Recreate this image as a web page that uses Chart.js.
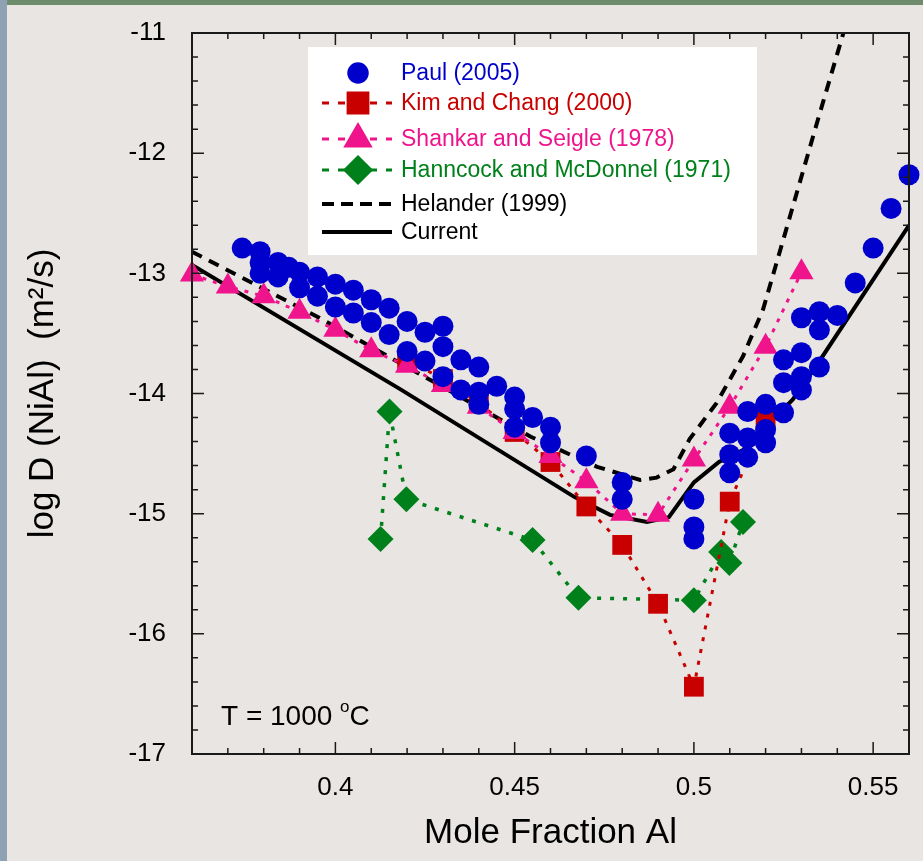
<!DOCTYPE html>
<html>
<head>
<meta charset="utf-8">
<script src="https://cdn.jsdelivr.net/npm/chart.js@4.4.1/dist/chart.umd.min.js"></script>
<style>
  html, body { margin: 0; padding: 0; background: #E8E5E2; }
  #wrap { width: 923px; height: 861px; }
</style>
</head>
<body>
<div id="wrap"><canvas id="chart" width="923" height="861"></canvas></div>
<script>
// Paul (2005) - scattered measurements
const paulX = [0.374, 0.379, 0.379, 0.379, 0.384, 0.384, 0.387, 0.390, 0.390, 0.395, 0.395,
  0.400, 0.400, 0.405, 0.405, 0.410, 0.410, 0.415, 0.415, 0.420, 0.420, 0.425, 0.425,
  0.430, 0.430, 0.430, 0.435, 0.435, 0.440, 0.440, 0.440, 0.445, 0.450, 0.450, 0.450,
  0.455, 0.460, 0.460, 0.470, 0.480, 0.480, 0.500, 0.500, 0.500,
  0.510, 0.510, 0.510, 0.515, 0.515, 0.515, 0.520, 0.520, 0.520,
  0.525, 0.525, 0.525, 0.530, 0.530, 0.530, 0.530, 0.535, 0.535, 0.535,
  0.540, 0.545, 0.550, 0.555, 0.560];
const paulY = [-12.79, -12.82, -12.91, -13.00, -12.91, -13.03, -12.95, -12.99, -13.12, -13.03, -13.19,
  -13.09, -13.28, -13.14, -13.33, -13.22, -13.41, -13.29, -13.51, -13.40, -13.65, -13.49, -13.73,
  -13.44, -13.61, -13.86, -13.72, -13.97, -13.78, -13.99, -14.09, -13.94, -14.03, -14.13, -14.28,
  -14.20, -14.28, -14.41, -14.52, -14.74, -14.88, -14.88, -15.11, -15.21,
  -14.33, -14.51, -14.66, -14.15, -14.37, -14.53, -14.09, -14.30, -14.41,
  -13.72, -13.91, -14.16, -13.66, -13.86, -13.97, -13.37, -13.32, -13.47, -13.78,
  -13.35, -13.08, -12.79, -12.46, -12.18];

// Kim and Chang (2000)
const kimX = [0.42, 0.43, 0.44, 0.45, 0.46, 0.47, 0.48, 0.49, 0.50, 0.51, 0.52];
const kimY = [-13.72, -13.88, -14.08, -14.32, -14.57, -14.94, -15.26, -15.75, -16.44, -14.90, -14.22];

// Shankar and Seigle (1978)
const shankarX = [0.36, 0.37, 0.38, 0.39, 0.40, 0.41, 0.42, 0.43, 0.44, 0.45, 0.46, 0.47, 0.48, 0.49, 0.50, 0.51, 0.52, 0.53];
const shankarY = [-13.01, -13.11, -13.19, -13.32, -13.47, -13.64, -13.77, -13.93, -14.11, -14.32, -14.52, -14.73, -15.00, -15.01, -14.55, -14.11, -13.61, -12.99];

// Hanncock and McDonnel (1971)
const hannX = [0.4126, 0.4151, 0.4198, 0.455, 0.4678, 0.500, 0.5076, 0.5099, 0.5137];
const hannY = [-15.21, -14.15, -14.88, -15.22, -15.70, -15.72, -15.32, -15.41, -15.07];

// Helander (1999) - dashed curve
const helX = [0.36, 0.3955, 0.435, 0.4545, 0.473, 0.485, 0.4896, 0.4943, 0.4988, 0.5063, 0.5137, 0.5193, 0.5257, 0.5348, 0.5417];
const helY = [-12.82, -13.37, -14.03, -14.36, -14.61, -14.72, -14.70, -14.63, -14.38, -14.08, -13.69, -13.30, -12.64, -11.70, -11.00];

// Current - solid curve
const curX = [0.36, 0.4184, 0.4666, 0.4766, 0.4869, 0.493, 0.500, 0.507, 0.5137, 0.5276, 0.5359, 0.56];
const curY = [-12.93, -13.97, -14.86, -15.01, -15.07, -15.03, -14.74, -14.57, -14.47, -14.05, -13.69, -12.60];

// axis ticks
const xTicks = [0.4, 0.45, 0.5, 0.55];
const xTickLabels = ['0.4', '0.45', '0.5', '0.55'];
const yTicks = [-17, -16, -15, -14, -13, -12, -11];
const yTickLabels = ['-17', '-16', '-15', '-14', '-13', '-12', '-11'];

const FONT = "'Liberation Sans', Arial, Helvetica, sans-serif";
const BLUE = '#0000CC', RED = '#C80000', PINK = '#F0148C', GREEN = '#00801A';

const pts = (xs, ys) => xs.map((x, i) => ({ x, y: ys[i] }));

// Legend entries, drawn by hand inside a white box
const legendItems = [
  { text: 'Paul (2005)', color: BLUE, marker: 'circle', r: 10, line: null },
  { text: 'Kim and Chang (2000)', color: RED, marker: 'rect', r: 14, line: [7, 9] },
  { text: 'Shankar and Seigle (1978)', color: PINK, marker: 'triangle', r: 14, line: [7, 9] },
  { text: 'Hanncock and McDonnel (1971)', color: GREEN, marker: 'rectRot', r: 13, line: [7, 9] },
  { text: 'Helander (1999)', color: '#000', marker: null, line: [12, 7] },
  { text: 'Current', color: '#000', marker: null, line: [] }
];
const legendRows = [73, 103, 139, 170, 204, 232];

const decor = {
  id: 'decor',
  beforeDraw(chart) {
    const { ctx, width, height } = chart;
    ctx.save();
    ctx.fillStyle = '#E8E5E2';
    ctx.fillRect(0, 0, width, height);
    ctx.fillStyle = '#6E8B6B';
    ctx.fillRect(0, 0, width, 5);
    ctx.fillStyle = '#8FA2B3';
    ctx.fillRect(0, 0, 7, height);
    ctx.restore();
  },
  afterDatasetsDraw(chart) {
    const { ctx, chartArea: a, scales } = chart;
    const xs = scales.x, ys = scales.y;
    ctx.save();

    // frame + inward ticks
    ctx.strokeStyle = '#1a1a1a';
    ctx.lineWidth = 2;
    ctx.strokeRect(a.left, a.top, a.right - a.left, a.bottom - a.top);
    ctx.lineWidth = 1.5;
    ctx.beginPath();
    for (let k = 37; k <= 55; k++) {
      const v = k / 100;
      const px = xs.getPixelForValue(v);
      const len = (k % 5 === 0) ? 12 : 6;
      ctx.moveTo(px, a.bottom); ctx.lineTo(px, a.bottom - len);
      ctx.moveTo(px, a.top); ctx.lineTo(px, a.top + len);
    }
    for (let k = -84; k <= -56; k++) {
      const v = k / 5;
      const py = ys.getPixelForValue(v);
      const len = (k % 5 === 0) ? 12 : 6;
      ctx.moveTo(a.left, py); ctx.lineTo(a.left + len, py);
      ctx.moveTo(a.right, py); ctx.lineTo(a.right - len, py);
    }
    ctx.stroke();

    // legend box
    ctx.fillStyle = '#FFFFFF';
    ctx.fillRect(308, 47, 449, 208);
    legendItems.forEach((it, i) => {
      const y = legendRows[i];
      if (it.line) {
        ctx.beginPath();
        ctx.setLineDash(it.line);
        ctx.strokeStyle = it.color;
        ctx.lineWidth = it.marker ? 3 : 4;
        ctx.moveTo(322, y); ctx.lineTo(392, y);
        ctx.stroke();
        ctx.setLineDash([]);
      }
      if (it.marker) {
        ctx.fillStyle = it.color;
        ctx.strokeStyle = it.color;
        Chart.helpers.drawPoint(ctx, { pointStyle: it.marker, radius: it.r, rotation: 0, borderWidth: 1 }, 358, y);
      }
      ctx.fillStyle = it.color;
      ctx.font = '23px ' + FONT;
      ctx.textAlign = 'left';
      ctx.textBaseline = 'middle';
      ctx.fillText(it.text, 401, y + 1);
    });

    // temperature note
    ctx.fillStyle = '#000';
    ctx.textBaseline = 'alphabetic';
    ctx.font = '28px ' + FONT;
    ctx.fillText('T = 1000 ', 221, 725);
    let tx = 221 + ctx.measureText('T = 1000 ').width;
    ctx.font = '17px ' + FONT;
    ctx.fillText('o', tx, 712);
    tx += ctx.measureText('o').width;
    ctx.font = '28px ' + FONT;
    ctx.fillText('C', tx, 725);

    // axis titles
    ctx.font = '35px ' + FONT;
    ctx.textAlign = 'center';
    ctx.fillText('Mole Fraction Al', (a.left + a.right) / 2, 843);
    ctx.translate(53, (a.top + a.bottom) / 2);
    ctx.rotate(-Math.PI / 2);
    ctx.font = '35px ' + FONT;
    ctx.fillText('log D (NiAl)  (m\u00B2/s)', 0, 0);
    ctx.restore();
  }
};

new Chart(document.getElementById('chart'), {
  type: 'scatter',
  data: {
    datasets: [
      { label: 'Paul (2005)', data: pts(paulX, paulY), order: 0, clip: false,
        pointStyle: 'circle', pointRadius: 10.5, backgroundColor: BLUE, borderColor: BLUE, pointBorderWidth: 0 },
      { label: 'Shankar and Seigle (1978)', data: pts(shankarX, shankarY), order: 1, clip: false,
        showLine: true, borderColor: PINK, backgroundColor: PINK, borderWidth: 3, borderDash: [4, 7],
        pointStyle: 'triangle', pointRadius: 14, pointBorderWidth: 0 },
      { label: 'Kim and Chang (2000)', data: pts(kimX, kimY), order: 2, clip: false,
        showLine: true, borderColor: RED, backgroundColor: RED, borderWidth: 3, borderDash: [4, 8],
        pointStyle: 'rect', pointRadius: 14, pointBorderWidth: 0 },
      { label: 'Hanncock and McDonnel (1971)', data: pts(hannX, hannY), order: 3, clip: false,
        showLine: true, borderColor: GREEN, backgroundColor: GREEN, borderWidth: 3.5, borderDash: [4, 9],
        pointStyle: 'rectRot', pointRadius: 13, pointBorderWidth: 0 },
      { label: 'Helander (1999)', data: pts(helX, helY), order: 4,
        showLine: true, borderColor: '#000', borderWidth: 4, borderDash: [11, 8], pointRadius: 0 },
      { label: 'Current', data: pts(curX, curY), order: 5,
        showLine: true, borderColor: '#000', borderWidth: 4, pointRadius: 0 }
    ]
  },
  options: {
    responsive: false,
    animation: false,
    events: [],
    layout: { padding: { top: 33, right: 10, left: 0, bottom: 0 } },
    plugins: { legend: { display: false }, tooltip: { enabled: false } },
    scales: {
      x: {
        type: 'linear', min: 0.36, max: 0.56,
        grid: { display: true, drawOnChartArea: false, drawTicks: true, tickLength: 18, tickColor: 'rgba(0,0,0,0)' },
        border: { display: false },
        afterBuildTicks: s => { s.ticks = xTicks.map(v => ({ value: v })); },
        afterFit: s => { s.height = 107; },
        ticks: { autoSkip: false, maxRotation: 0, padding: 0, color: '#000',
          font: { family: FONT, size: 26 }, callback: (v, i) => xTickLabels[i] }
      },
      y: {
        type: 'linear', min: -17, max: -11,
        grid: { display: true, drawOnChartArea: false, drawTicks: true, tickLength: 26, tickColor: 'rgba(0,0,0,0)' },
        border: { display: false },
        afterBuildTicks: s => { s.ticks = yTicks.map(v => ({ value: v })); },
        afterFit: s => { s.width = 192; },
        ticks: { autoSkip: false, padding: 0, color: '#000',
          font: { family: FONT, size: 26 }, callback: (v, i) => yTickLabels[i] }
      }
    }
  },
  plugins: [decor]
});
</script>
</body>
</html>
